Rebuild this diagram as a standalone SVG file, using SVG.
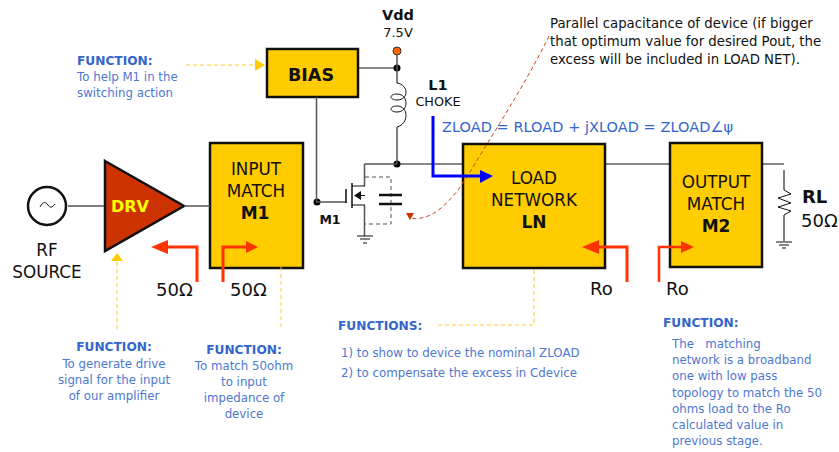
<svg xmlns="http://www.w3.org/2000/svg" width="839" height="452" viewBox="0 0 839 452">
<style>
text{font-family:"DejaVu Sans","Noto Sans",sans-serif;fill:#111}
.blk{fill:#ffcc00;stroke:#111;stroke-width:2.5}
.w{fill:none;stroke:#555;stroke-width:1.5}
.k{fill:none;stroke:#111;stroke-width:1.2}
.dot{fill:#000}
.y{fill:none;stroke:#ffcc33;stroke-width:1;stroke-dasharray:4 3}
.r{fill:none;stroke:#ff3300;stroke-width:3}
.ra{fill:#ff3300}
.m{text-anchor:middle}
.big{font-size:16.800px}
.bb{font-size:17px;font-weight:bold}
.f{fill:#3366cc;font-size:12.200px;font-weight:bold}
.t{fill:#4d77d1;font-size:11.800px}
.p{font-size:13.300px}
.n{font-size:12.800px}
.omega{font-size:18px}
</style>
<g id="rf-source"><circle cx="47" cy="206" r="19" fill="#fff" stroke="#111" stroke-width="2.500"/><path d="M40 207c3-6 6-5 8-2c2 3 4 3 7-1" fill="none" stroke="#111"/><text class="big m" x="47" y="256">RF</text><text class="big m" x="47" y="278">SOURCE</text></g>
<g id="drv"><path d="M105 161L184 206L105 251Z" fill="#cc3300" stroke="#111" stroke-width="2.500"/><text x="130" y="212" class="m" style="font-size:16px;font-weight:bold;fill:#ffff00">DRV</text></g>
<g id="input-match"><rect class="blk" x="210" y="143" width="93" height="125"/><text class="big m" x="256" y="175">INPUT</text><text class="big m" x="256" y="197">MATCH</text><text class="bb m" x="255" y="219">M1</text></g>
<g id="bias"><rect class="blk" x="267" y="49" width="91" height="48"/><text x="311" y="81" class="m" style="font-size:17.500px;font-weight:bold">BIAS</text></g>
<g id="vdd"><circle cx="397" cy="51" r="4" fill="#ff6600" stroke="#333"/><circle class="dot" cx="397" cy="68" r="3.500"/><text x="398" y="20" class="m" style="font-size:14.500px;font-weight:bold">Vdd</text><text x="398" y="37" class="m" style="font-size:13px">7.5V</text></g>
<g id="l1"><text x="438" y="90" class="m" style="font-size:14.500px;font-weight:bold">L1</text><text x="438" y="106" class="m n">CHOKE</text></g>
<g id="m1"><circle class="dot" cx="397" cy="164" r="3.500"/><circle class="dot" cx="317" cy="202" r="3.500"/><text x="330" y="224" class="m" style="font-size:12.500px;font-weight:bold">M1</text></g>
<g id="load-network"><rect class="blk" x="463" y="144" width="142" height="124"/><text class="big m" x="534" y="184">LOAD</text><text class="big m" x="534" y="206">NETWORK</text><text class="bb m" x="534" y="228">LN</text></g>
<g id="output-match"><rect class="blk" x="670" y="143" width="92" height="124"/><text class="big m" x="716" y="188">OUTPUT</text><text class="big m" x="716" y="210">MATCH</text><text class="bb m" x="716" y="232">M2</text></g>
<g id="rl"><text x="802" y="203" style="font-size:18px;font-weight:bold">RL</text><text x="801" y="227" class="omega">50Ω</text></g>
<g id="connectors">
<path class="w" d="M68 206H104M184 206H210"/>
<path class="w" d="M316.500 97V202H346"/>
<path class="k" d="M358 68H397"/>
<path class="w" d="M397 55V83M397 127V164"/>
<path class="k" d="M397 164H463M605 164H670M762 164H784"/>
<path class="w" d="M364.500 164H397"/>
<path d="M397 83c12 2 12 17 0 17c-8 0-8 -6 0-6c12 0 12 18 0 18c-8 0-8 -6 0-6c12 0 12 18 0 21" fill="none" stroke="#111"/>
<path class="w" d="M364.500 164V186M364.500 205V236"/>
<path class="k" d="M352 186H365M352 205H365"/>
<path d="M352 183V208M346 189V203" fill="none" stroke="#111" stroke-width="1.500"/>
<path d="M354 195.500L361 191V200Z" fill="#111"/>
<path d="M360 195.500H365" stroke="#111"/>
<path d="M365 177H391V224H365" fill="none" stroke="#555" stroke-dasharray="4 3"/>
<path d="M379 195H402M379 204H402" stroke="#111" stroke-width="2.500"/>
<path class="k" d="M357 236H373M360 239H370M363 243H367"/>
<path class="w" d="M784 170V190M784 215V241"/>
<path d="M784 190L791 194L778 198L791 203L778 207L791 211L784 215" fill="none" stroke="#111"/>
<path class="k" d="M776 242H792M779 245H789M782 248H786"/>
<path class="y" d="M186 65H258"/>
<path d="M255 59L265 65L255 71Z" fill="#ffcc00"/>
<path class="y" d="M117 262V329"/>
<path d="M111 261H123L117 253Z" fill="#ffcc00"/>
<path class="y" d="M281 267V330"/>
<path class="y" d="M534 270V325H437"/>
<path class="r" d="M197 282V247H160"/>
<path class="ra" d="M151 247L168 240V254Z"/>
<path class="r" d="M223 282V247H250"/>
<path class="ra" d="M258 247L246 241V253Z"/>
<path class="r" d="M627 282V247H590"/>
<path class="ra" d="M582 247L599 240V254Z"/>
<path d="M659 282V247H685" fill="none" stroke="#ff3300" stroke-width="2.500"/>
<path class="ra" d="M694 247L681 241V253Z"/>
<path d="M549 36C525 85 495 130 470 172C450 205 430 222 410 218" fill="none" stroke="#d2401a" stroke-dasharray="4 3"/>
<path d="M406 213H414L410 220Z" fill="#cc3300"/>
<path d="M433 116V176H482" fill="none" stroke="#0000ff" stroke-width="3"/>
<path d="M480 170L493 176L480 183Z" fill="#0000ff"/>
</g>
<g id="labels">
<text x="156" y="296" class="omega">50Ω</text><text x="230" y="296" class="omega">50Ω</text><text x="590" y="295" class="omega">Ro</text><text x="666" y="295" class="omega">Ro</text>
<text x="442" y="132" textLength="291" style="font-size:14.500px;fill:#3366cc">ZLOAD = RLOAD + jXLOAD = ZLOAD∠ψ</text>
<text x="550" y="28" class="p">Parallel capacitance of device (if bigger</text>
<text x="550" y="46" class="p">that optimum value for desired Pout, the</text>
<text x="550" y="64" class="p">excess will be included in LOAD NET).</text>
</g>
<g id="notes">
<text class="f" x="77" y="65">FUNCTION:</text><text class="t" x="77" y="81">To help M1 in the</text><text class="t" x="77" y="97">switching action</text>
<text class="f m" x="114" y="351">FUNCTION:</text><text class="t m" x="114" y="368">To generate drive</text><text class="t m" x="114" y="384">signal for the input</text><text class="t m" x="114" y="400">of our amplifier</text>
<text class="f m" x="244" y="354">FUNCTION:</text><text class="t m" x="244" y="370">To match 50ohm</text><text class="t m" x="244" y="386">to input</text><text class="t m" x="244" y="402">impedance of</text><text class="t m" x="244" y="418">device</text>
<text class="f" x="338" y="330">FUNCTIONS:</text><text class="t" x="341" y="357">1) to show to device the nominal ZLOAD</text><text class="t" x="341" y="377">2) to compensate the excess in Cdevice</text>
<text class="f" x="663" y="327">FUNCTION:</text><text class="t" x="672" y="348" xml:space="preserve">The   matching</text><text class="t" x="672" y="364">network is a broadband</text><text class="t" x="672" y="380">one with low pass</text><text class="t" x="672" y="397">topology to match the 50</text><text class="t" x="672" y="413">ohms load to the Ro</text><text class="t" x="672" y="429">calculated value in</text><text class="t" x="672" y="445">previous stage.</text>
</g>
</svg>
